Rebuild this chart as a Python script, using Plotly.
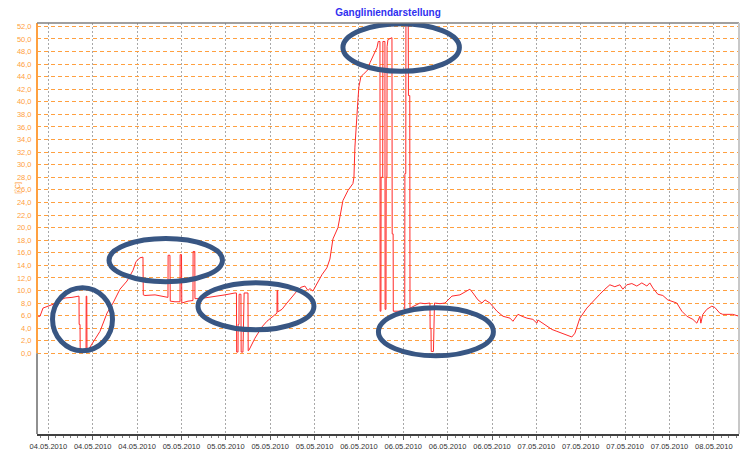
import pandas as pd
import plotly.graph_objects as go

# ---- data (hours after 04.05.2010 00:00, temperature in °C) ----
hours = [4.47, 4.88, 5.28, 5.82, 6.64, 7.31, 8.26, 9.20, 10.15, 10.17, 10.29, 10.31, 11.10, 11.12,
         11.20, 11.23, 11.37, 12.99, 13.94, 14.75, 15.69, 16.64, 17.45, 17.86, 18.40, 18.80, 18.84,
         19.07, 20.43, 22.18, 22.20, 22.45, 22.49, 23.13, 23.81, 23.83, 24.01, 24.05, 24.89, 25.56,
         25.58, 25.81, 25.83, 26.51, 27.86, 28.81, 29.89, 31.24, 31.44, 31.47, 31.65, 31.67, 31.78,
         31.80, 32.05, 32.08, 32.32, 32.48, 33.00, 33.03, 33.13, 33.94, 34.89, 35.56, 36.24, 36.92,
         36.94, 37.02, 37.04, 37.60, 38.27, 38.95, 39.62, 40.16, 40.70, 41.11, 41.38, 41.78, 42.05,
         42.32, 43.00, 43.67, 44.08, 44.49, 45.17, 45.84, 46.52, 47.19, 47.33, 47.46, 47.73, 47.87,
         48.00, 48.27, 48.54, 49.22, 49.49, 50.03, 50.44, 50.62, 50.85, 50.87, 50.98, 51.00, 51.22,
         51.24, 51.52, 51.54, 51.66, 51.69, 51.79, 51.81, 51.93, 52.47, 52.50, 52.63, 52.65, 53.28,
         53.96, 54.20, 54.22, 54.34, 54.36, 54.67, 54.70, 54.88, 54.91, 55.58, 56.26, 56.93, 57.61,
         57.63, 57.75, 57.78, 58.08, 58.22, 58.96, 59.64, 60.58, 61.66, 62.61, 63.01, 63.42, 64.10,
         64.64, 65.05, 65.72, 66.67, 67.48, 68.43, 68.83, 69.51, 70.05, 70.72, 71.53, 72.07, 72.21,
         73.15, 74.10, 74.77, 75.58, 76.80, 77.21, 77.88, 78.83, 79.64, 80.58, 81.26, 81.94, 82.61,
         83.29, 83.69, 84.23, 84.91, 85.58, 86.26, 86.94, 87.34, 87.75, 88.42, 89.10, 89.77, 90.99,
         91.67, 92.35, 93.16, 93.70, 94.11, 94.24, 94.51, 95.05, 95.72, 96.13, 96.80, 97.21, 98.56,
         99.40]
temps = [5.9, 5.9, 7.2, 7.4, 7.8, 8.3, 8.8, 8.9, 9.1, 4.6, 4.6, 0.3, 0.3, 9.1,
         9.1, 0.3, 0.5, 3.5, 6.4, 8.0, 10.2, 11.5, 13.2, 14.6, 15.2, 15.3, 9.3,
         9.2, 9.3, 8.9, 15.6, 15.6, 8.3, 8.2, 8.2, 15.7, 15.7, 8.0, 8.3, 8.4,
         16.2, 16.2, 8.7, 8.7, 8.9, 9.1, 9.3, 9.6, 9.6, 0.2, 0.2, 4.6, 4.6,
         9.4, 9.4, 0.2, 0.2, 9.6, 9.6, 0.4, 0.5, 2.4, 4.2, 5.1, 5.8, 6.4,
         10.0, 10.0, 6.6, 7.0, 8.0, 9.0, 9.9, 10.5, 10.7, 10.0, 10.3, 9.9, 10.5,
         11.2, 12.5, 13.6, 15.0, 18.2, 20.0, 24.3, 25.9, 27.0, 28.0, 32.8, 38.7, 40.3,
         42.4, 44.0, 44.3, 45.1, 46.2, 47.5, 48.6, 49.6, 49.6, 6.7, 6.7, 28.0, 28.0,
         49.6, 49.6, 7.0, 7.0, 28.0, 28.0, 48.8, 49.9, 50.2, 19.0, 19.0, 6.7, 6.7,
         6.8, 6.8, 28.6, 28.6, 52.3, 52.3, 41.0, 41.0, 7.2, 7.6, 8.0, 7.9, 8.0,
         4.0, 4.0, 0.3, 0.3, 8.0, 7.9, 8.0, 9.1, 9.3, 9.9, 10.2, 9.6, 8.5,
         8.0, 8.5, 8.0, 6.7, 5.9, 5.6, 5.1, 6.2, 5.9, 5.6, 5.4, 4.8, 5.3,
         4.6, 3.8, 3.5, 3.1, 2.6, 3.2, 5.6, 7.2, 8.3, 9.4, 10.2, 10.9, 10.6,
         10.9, 10.2, 10.9, 11.1, 10.7, 11.2, 10.7, 11.2, 10.4, 9.4, 9.2, 8.5, 8.0,
         6.7, 5.9, 5.4, 4.8, 5.9, 4.8, 6.2, 7.0, 7.5, 7.3, 6.4, 6.2, 6.2,
         5.9]

tick_hours = [6, 12, 18, 24, 30, 36, 42, 48, 54, 60, 66, 72, 78, 84, 90, 96]
tick_labels = ["04.05.2010", "04.05.2010", "04.05.2010", "05.05.2010", "05.05.2010",
               "05.05.2010", "05.05.2010", "06.05.2010", "06.05.2010", "06.05.2010",
               "06.05.2010", "07.05.2010", "07.05.2010", "07.05.2010", "07.05.2010",
               "08.05.2010"]
y_ticks = list(range(0, 53, 2))
y_labels = [f"{v},0" for v in y_ticks]

# highlight ellipses (hours start/end, value low/high)
ell_h0 = [6.57, 14.21, 26.24, 45.84, 50.64]
ell_h1 = [14.68, 29.55, 41.92, 61.59, 66.19]
ell_v0 = [0.40, 11.39, 3.75, 44.86, -0.40]
ell_v1 = [10.44, 18.25, 11.24, 52.43, 7.25]

x_range_hours = [4.47, 99.40]
y_range = [-12.83, 52.54]

base = pd.Timestamp("2010-05-04 00:00")
def to_time(h):
    return base + pd.to_timedelta(h, unit="h")

times = [to_time(h) for h in hours]

fig = go.Figure()
fig.add_trace(go.Scatter(x=times, y=temps, mode="lines",
                         line=dict(color="#ff2a2a", width=1), showlegend=False,
                         hoverinfo="skip"))

orange = "#ffa040"
shapes = []
for h0, h1, v0, v1 in zip(ell_h0, ell_h1, ell_v0, ell_v1):
    shapes.append(dict(type="circle", xref="x", yref="y",
                       x0=to_time(h0), x1=to_time(h1), y0=v0, y1=v1,
                       line=dict(color="#385683", width=5), layer="above"))
# axis lines
shapes.append(dict(type="line", xref="paper", yref="y", x0=0, x1=0, y0=0, y1=y_range[1],
                   line=dict(color=orange, width=2)))
shapes.append(dict(type="line", xref="paper", yref="y", x0=0, x1=0, y0=y_range[0], y1=0,
                   line=dict(color="#909090", width=2)))
shapes.append(dict(type="line", xref="paper", yref="paper", x0=0, x1=1, y0=1, y1=1,
                   line=dict(color="#808080", width=1.5)))
shapes.append(dict(type="line", xref="paper", yref="paper", x0=1, x1=1, y0=0, y1=1,
                   line=dict(color="#c8c8c8", width=2)))

fig.update_layout(
    width=742, height=453,
    margin=dict(l=37, r=3, t=23, b=19),
    paper_bgcolor="white", plot_bgcolor="white",
    font=dict(family="Liberation Sans, Arial, sans-serif"),
    title=dict(text="<b>Gangliniendarstellung</b>", x=0.523, xanchor="center",
               y=1 - 12 / 453, yanchor="middle",
               font=dict(size=10, color="#2f2ff0")),
    shapes=shapes,
    annotations=[dict(text="[°C]", xref="paper", yref="paper",
                      x=(11.7 - 37) / 702, y=(434 - 188) / 411,
                      showarrow=False, textangle=-90,
                      font=dict(size=7, color=orange))],
)

fig.update_xaxes(
    type="date",
    range=[to_time(x_range_hours[0]), to_time(x_range_hours[1])],
    tickmode="array",
    tickvals=[to_time(h) for h in tick_hours],
    ticktext=tick_labels,
    tickfont=dict(size=7.5, color="#333333"),
    ticks="outside", ticklen=4, tickcolor="#606060", tickwidth=1,
    showgrid=True, gridcolor="#a8a8a8", griddash="2px,2px", gridwidth=1,
    showline=True, linecolor="#404040", linewidth=2,
    zeroline=False,
    minor=dict(ticks="outside", ticklen=2, tickcolor="#808080",
               dtick=3600000, tick0="2010-05-04 00:00", showgrid=False),
)
fig.update_yaxes(
    range=y_range,
    tickmode="array", tickvals=y_ticks, ticktext=y_labels,
    tickfont=dict(size=7.5, color=orange),
    ticks="outside", ticklen=3, tickcolor="rgba(0,0,0,0)",
    showgrid=True, gridcolor=orange, griddash="4px,3px", gridwidth=1,
    showline=False, zeroline=False,
)

fig.write_html("out.html",
               config={"displayModeBar": False},
               post_script="document.body.style.margin='0';document.body.style.padding='0';"
                           "document.documentElement.style.overflow='hidden';")
